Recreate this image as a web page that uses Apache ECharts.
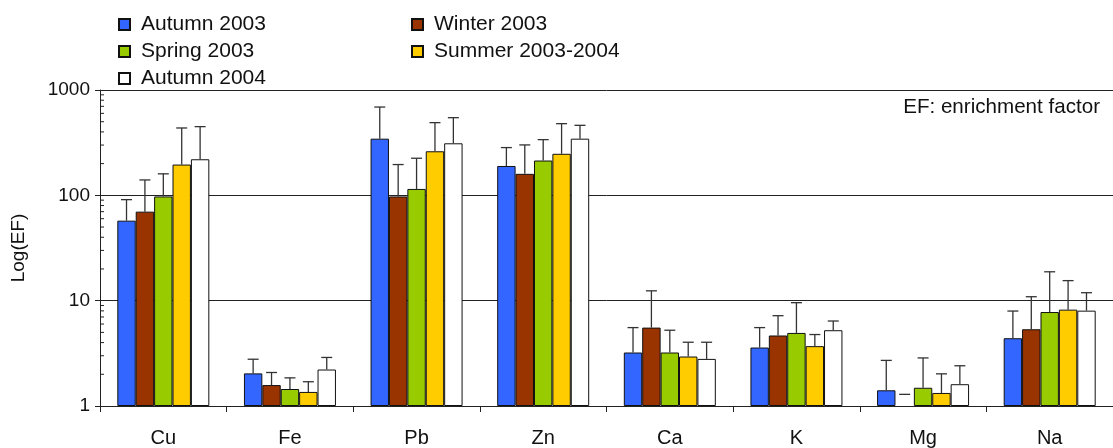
<!DOCTYPE html>
<html>
<head>
<meta charset="utf-8">
<script src="https://cdn.jsdelivr.net/npm/echarts@6/dist/echarts.min.js"></script>
<style>
    html, body { margin: 0; padding: 0; background: #fff; }
    #chart { width: 1113px; height: 448px; }
</style>
</head>
<body>
<div id="chart"></div>
<script>
    // enrichment factors per element and season (bar top, error bar top)
    const categories = ['Cu', 'Fe', 'Pb', 'Zn', 'Ca', 'K', 'Mg', 'Na']
    const seasons = ['Autumn 2003', 'Winter 2003', 'Spring 2003', 'Summer 2003-2004', 'Autumn 2004']

    const autumn2003 = [57.5, 2.04, 345, 190, 3.22, 3.59, 1.41, 4.40]
    const autumn2003Err = [91, 2.78, 689, 284, 5.55, 5.55, 2.71, 7.97]
    const winter2003 = [70, 1.58, 97.6, 160, 5.55, 4.67, '-', 5.35]
    const winter2003Err = [140, 2.08, 196, 301, 12.4, 7.2, 1.29, 10.9]
    const spring2003 = [97.6, 1.45, 115, 214, 3.22, 4.94, 1.49, 7.8]
    const spring2003Err = [160, 1.85, 225, 338, 5.24, 9.57, 2.86, 18.8]
    const summer2003 = [196, 1.36, 262, 248, 2.95, 3.70, 1.33, 8.22]
    const summer2003Err = [436, 1.70, 490, 479, 4.03, 4.77, 2.02, 15.5]
    const autumn2004 = [220, 2.22, 312, 345, 2.80, 5.24, 1.61, 8.04]
    const autumn2004Err = [449, 2.89, 546, 462, 4.03, 6.41, 2.41, 11.9]

    const minorTicks = [2, 3, 4, 5, 6, 7, 8, 9, 20, 30, 40, 50, 60, 70, 80, 90, 200, 300, 400, 500, 600, 700, 800, 900]

    const values = [autumn2003, winter2003, spring2003, summer2003, autumn2004]
    const errors = [autumn2003Err, winter2003Err, spring2003Err, summer2003Err, autumn2004Err]
    const colors = ['#3366ff', '#993300', '#99cc00', '#ffcc00', '#ffffff']

    const FONT = 'Liberation Sans, Arial, sans-serif'
    const BAR_W = 18.4

    const errRenderer = (k) => (params, api) => {
        const cat = api.value(0)
        const v = api.value(1)
        const top = api.coord([cat, api.value(2)])
        const x = top[0] + (k - 2) * BAR_W
        const style = { stroke: '#333', lineWidth: 1.3 }
        const children = []
        if (!isNaN(v)) {
            const base = api.coord([cat, v])
            children.push({ type: 'line', shape: { x1: x, y1: base[1], x2: x, y2: top[1] }, style })
        }
        children.push({ type: 'line', shape: { x1: x - 5.5, y1: top[1], x2: x + 5.5, y2: top[1] }, style })
        return { type: 'group', children }
    }

    const barSeries = seasons.map((name, k) => ({
        name,
        type: 'bar',
        barWidth: BAR_W,
        barGap: '0%',
        data: values[k],
        itemStyle: { color: colors[k], borderColor: '#111', borderWidth: 1 },
        z: 2
    }))

    const errSeries = seasons.map((name, k) => ({
        name: 'err ' + name,
        type: 'custom',
        renderItem: errRenderer(k),
        data: categories.map((c, i) => [i, values[k][i], errors[k][i]]),
        encode: { x: 0, y: 2 },
        silent: true,
        z: 3
    }))

    // minor ticks of the log axis, drawn inside the plot
    const minorSeries = {
        name: 'minor',
        type: 'custom',
        silent: true,
        renderItem: (params, api) => {
            const p = api.coord([0, api.value(1)])
            const x0 = params.coordSys.x
            return { type: 'line', shape: { x1: x0, y1: p[1], x2: x0 + 4, y2: p[1] }, style: { stroke: '#222', lineWidth: 1 } }
        },
        data: minorTicks.map(v => [0, v]),
        encode: { x: 0, y: 1 },
        z: 4
    }

    const legendBase = {
        orient: 'vertical', top: 14, padding: 0,
        itemWidth: 11, itemHeight: 11, itemGap: 6, itemTextGap: 12,
        icon: 'rect', selectedMode: false,
        textStyle: { fontFamily: FONT, fontSize: 21, color: '#111', padding: [0, 0, 0, 6] }
    }

    const chart = echarts.init(document.getElementById('chart'))
    chart.setOption({
        animation: false,
        grid: { left: 100, right: -9, top: 90, bottom: 41 },
        legend: [
            { ...legendBase, left: 118, data: [seasons[0], seasons[2], seasons[4]] },
            { ...legendBase, left: 411, data: [seasons[1], seasons[3]] }
        ],
        graphic: [{
            type: 'text', right: 13, top: 97,
            style: { text: 'EF: enrichment factor', font: '20.6px ' + FONT, fill: '#111' }
        }],
        xAxis: {
            type: 'category',
            data: categories,
            axisLine: { lineStyle: { color: '#222', width: 1 } },
            axisTick: { show: true, length: 6, lineStyle: { color: '#222' } },
            axisLabel: { margin: 22, fontFamily: FONT, fontSize: 20, color: '#111' }
        },
        yAxis: {
            type: 'log',
            logBase: 10,
            min: 1,
            max: 1000,
            name: 'Log(EF)',
            nameLocation: 'middle',
            nameRotate: 90,
            nameGap: 72,
            nameTextStyle: { fontFamily: FONT, fontSize: 19, color: '#111' },
            axisLine: { show: true, lineStyle: { color: '#222', width: 1 } },
            axisTick: { show: true, length: 5, lineStyle: { color: '#222' } },
            axisLabel: { margin: 10, fontFamily: FONT, fontSize: 19, color: '#111', formatter: v => String(v) },
            splitLine: { show: true, lineStyle: { color: '#222', width: 1 } }
        },
        series: [...barSeries, ...errSeries, minorSeries]
    })
</script>
</body>
</html>
